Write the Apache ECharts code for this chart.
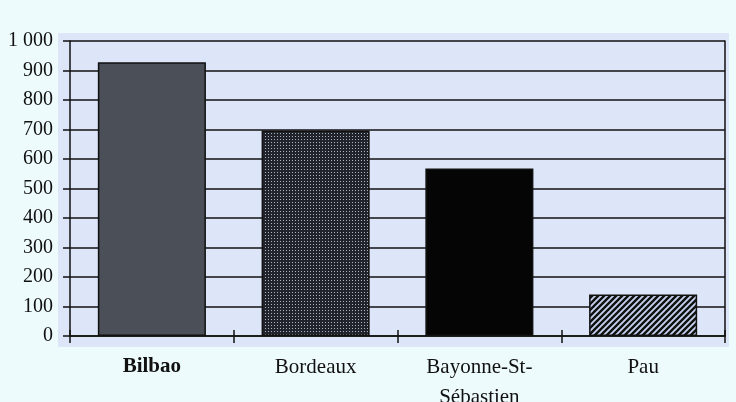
<!DOCTYPE html>
<html>
<head>
<meta charset="utf-8">
<script src="https://cdn.jsdelivr.net/npm/echarts@6/dist/echarts.min.js"></script>
<style>
  html, body { margin: 0; padding: 0; background: #eefbfd; }
  #chart { width: 736px; height: 402px; }
</style>
</head>
<body>
<div id="chart"></div>
<script>
// Cities and their values
const categories = ['Bilbao', 'Bordeaux', 'Bayonne-St-\nSébastien', 'Pau'];
const values = [928, 697, 568, 141];
const yTicks = [0, 100, 200, 300, 400, 500, 600, 700, 800, 900, 1000];

// Fill patterns for the bars
function dotPattern() {
  const c = document.createElement('canvas');
  c.width = 3; c.height = 3;
  const g = c.getContext('2d');
  g.fillStyle = '#22242c';
  g.fillRect(0, 0, 3, 3);
  g.fillStyle = '#aab3c6';
  g.fillRect(1, 1, 1, 1);
  return c;
}
function hatchPattern() {
  const s = 6;
  const c = document.createElement('canvas');
  c.width = s; c.height = s;
  const g = c.getContext('2d');
  g.fillStyle = '#c4d2ee';
  g.fillRect(0, 0, s, s);
  g.strokeStyle = '#111';
  g.lineWidth = 2.4;
  g.beginPath();
  g.moveTo(-1, s + 1); g.lineTo(s + 1, -1);
  g.moveTo(-1, 1); g.lineTo(1, -1);
  g.moveTo(s - 1, s + 1); g.lineTo(s + 1, s - 1);
  g.stroke();
  return c;
}

const fills = [
  '#4b4f58',
  { image: dotPattern(), repeat: 'repeat' },
  '#050505',
  { image: hatchPattern(), repeat: 'repeat' }
];

const ink = '#111';
const catFont = { color: ink, fontFamily: 'Liberation Serif', fontSize: 21 };
const valFont = { color: ink, fontFamily: 'Liberation Serif', fontSize: 20 };

const chart = echarts.init(document.getElementById('chart'), null, { renderer: 'canvas' });

chart.setOption({
  backgroundColor: '#eefbfd',
  animation: false,
  graphic: [{
    type: 'rect',
    z: -10,
    shape: { x: 58, y: 33, width: 671, height: 314 },
    style: { fill: '#dde6f9' }
  }],
  grid: { left: 70, right: 11, top: 41, bottom: 66, outerBoundsMode: 'none', containLabel: false },
  xAxis: [{
    type: 'category',
    data: categories,
    axisLine: { show: true, lineStyle: { color: ink, width: 1.5 } },
    axisTick: { show: true, length: 7, lineStyle: { color: ink, width: 1.5 } },
    axisLabel: Object.assign({}, catFont, {
      margin: 16,
      lineHeight: 30,
      formatter: v => v === 'Bilbao' ? '{b|' + v + '}' : v,
      rich: { b: Object.assign({}, catFont, { fontWeight: 'bold', lineHeight: 30 }) }
    })
  }, {
    // inner half of the category ticks, so they cross the base line
    type: 'category',
    data: categories,
    position: 'bottom',
    axisLine: { show: false },
    axisTick: { show: true, inside: true, length: 6, lineStyle: { color: ink, width: 1.5 } },
    axisLabel: { show: false }
  }],
  yAxis: [{
    type: 'value',
    min: 0,
    max: 1000,
    interval: 100,
    axisLine: { show: true, lineStyle: { color: ink, width: 1.5 } },
    axisTick: { show: true, length: 7, lineStyle: { color: ink, width: 1.5 } },
    splitLine: { show: true, lineStyle: { color: ink, width: 1.5 } },
    axisLabel: Object.assign({}, valFont, {
      margin: 17,
      formatter: v => yTicks.includes(v) ? (v >= 1000 ? '1 ' + String(v).slice(1) : String(v)) : ''
    })
  }, {
    // right-hand frame line
    type: 'value',
    position: 'right',
    min: 0,
    max: 1000,
    interval: 100,
    axisLine: { show: true, lineStyle: { color: ink, width: 1.5 } },
    axisTick: { show: false },
    splitLine: { show: false },
    axisLabel: { show: false }
  }],
  series: [{
    type: 'bar',
    barWidth: '66%',
    data: values.map((v, i) => ({
      value: v,
      itemStyle: { color: fills[i], borderColor: ink, borderWidth: 1.5 }
    }))
  }]
});
</script>
</body>
</html>
